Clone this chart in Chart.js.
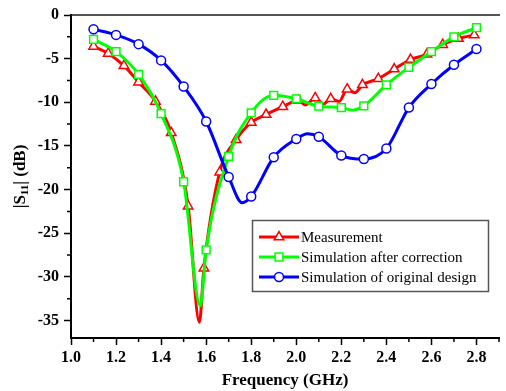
<!DOCTYPE html>
<html>
<head>
<meta charset="utf-8">
<script src="https://cdn.jsdelivr.net/npm/chart.js@4/dist/chart.umd.min.js"></script>
<style>
  html, body { margin: 0; padding: 0; background: #fff; }
</style>
</head>
<body>
<canvas id="s11Chart" width="506" height="391"></canvas>
<script>
// values
const redFreq = [1.10, 1.165, 1.235, 1.30, 1.375, 1.445, 1.52, 1.57, 1.59, 1.66, 1.733, 1.80, 1.866, 1.94, 2.01, 2.04, 2.084, 2.12, 2.153, 2.19, 2.226, 2.26, 2.294, 2.364, 2.435, 2.507, 2.58, 2.65, 2.72, 2.79];
const redS11  = [-3.6, -4.4, -5.8, -7.7, -9.9, -13.5, -21.9, -35.2, -29.0, -18.0, -14.3, -12.3, -11.4, -10.5, -9.8, -10.3, -9.5, -10.2, -9.6, -9.9, -8.5, -8.9, -8.0, -7.3, -6.2, -5.1, -4.5, -3.4, -2.7, -2.3];
const redMark = [1, 1, 1, 1, 1, 1, 1, 0, 1, 1, 1, 1, 1, 1, 1, 0, 1, 0, 1, 0, 1, 0, 1, 1, 1, 1, 1, 1, 1, 1];

const greenFreq = [1.1, 1.2, 1.3, 1.4, 1.5, 1.574, 1.6, 1.7, 1.8, 1.9, 2.0, 2.1, 2.2, 2.25, 2.3, 2.4, 2.5, 2.6, 2.7, 2.8];
const greenS11  = [-2.8, -4.2, -6.8, -11.3, -19.1, -33.3, -26.9, -16.2, -11.2, -9.2, -9.6, -10.45, -10.6, -10.9, -10.4, -8.0, -6.0, -4.2, -2.5, -1.45];
const greenMark = [1, 1, 1, 1, 1, 0, 1, 1, 1, 1, 1, 1, 1, 0, 1, 1, 1, 1, 1, 1];

const blueFreq = [1.1, 1.2, 1.3, 1.4, 1.5, 1.6, 1.7, 1.76, 1.8, 1.9, 2.0, 2.05, 2.1, 2.2, 2.3, 2.4, 2.5, 2.6, 2.7, 2.8];
const blueS11  = [-1.63, -2.28, -3.34, -5.2, -8.2, -12.2, -18.55, -21.5, -20.8, -16.3, -14.2, -13.6, -13.95, -16.1, -16.5, -15.3, -10.6, -7.9, -5.7, -3.9];
const blueMark = [1, 1, 1, 1, 1, 1, 1, 0, 1, 1, 1, 0, 1, 1, 1, 1, 1, 1, 1, 1];

const xTicks = [1.0, 1.2, 1.4, 1.6, 1.8, 2.0, 2.2, 2.4, 2.6, 2.8];
const xMinor = [1.1, 1.3, 1.5, 1.7, 1.9, 2.1, 2.3, 2.5, 2.7, 2.9];
const yTicks = [0, -5, -10, -15, -20, -25, -30, -35];
const yMinor = [-2.5, -7.5, -12.5, -17.5, -22.5, -27.5, -32.5];

const seriesNames = ['Measurement', 'Simulation after correction', 'Simulation of original design'];

const FONT = '"Liberation Serif", "Times New Roman", serif';

function series(label, freq, vals, marks, color, style, r, order) {
  return {
    label,
    data: freq.map((f, i) => ({ x: f, y: vals[i] })),
    borderColor: color,
    backgroundColor: '#fff',
    borderWidth: 3,
    pointStyle: style,
    pointRadius: marks.map(m => m ? r : 0),
    pointBorderColor: color,
    pointBackgroundColor: '#fff',
    pointBorderWidth: 1.5,
    cubicInterpolationMode: 'monotone',
    order
  };
}

const datasets = [
  series(seriesNames[0], redFreq, redS11, redMark, '#ff0000', 'triangle', 5.5, 3),
  series(seriesNames[1], greenFreq, greenS11, greenMark, '#00ff00', 'rect', 5.5, 2),
  series(seriesNames[2], blueFreq, blueS11, blueMark, '#0000ff', 'circle', 4.5, 1)
];

// short outward minor ticks
const minorTicks = {
  id: 'minorTicks',
  afterDraw(chart) {
    const { ctx, scales: { x, y } } = chart;
    ctx.save();
    ctx.strokeStyle = '#000';
    ctx.lineWidth = 1.5;
    ctx.beginPath();
    xMinor.forEach(v => {
      const px = x.getPixelForValue(v);
      if (px > x.right) return;
      ctx.moveTo(px, x.top);
      ctx.lineTo(px, x.top + 4);
    });
    yMinor.forEach(v => {
      const py = y.getPixelForValue(v);
      ctx.moveTo(y.right, py);
      ctx.lineTo(y.right - 4, py);
    });
    ctx.stroke();
    ctx.restore();
  }
};

// y title with a real subscript
const yTitle = {
  id: 'yTitle',
  afterDraw(chart) {
    const { ctx, chartArea } = chart;
    ctx.save();
    ctx.translate(21, (chartArea.top + chartArea.bottom) / 2);
    ctx.rotate(-Math.PI / 2);
    ctx.fillStyle = '#000';
    ctx.textBaseline = 'middle';
    const big = 'bold 17px ' + FONT;
    const small = 'bold 11px ' + FONT;
    const parts = [['|S', big, 0], ['11', small, 4], ['| (dB)', big, 0]];
    let total = 0;
    parts.forEach(p => { ctx.font = p[1]; total += ctx.measureText(p[0]).width; });
    let cx = -total / 2;
    parts.forEach(p => {
      ctx.font = p[1];
      ctx.fillText(p[0], cx, p[2]);
      cx += ctx.measureText(p[0]).width;
    });
    ctx.restore();
  }
};

// boxed legend inside the plot, line + marker per entry
const boxLegend = {
  id: 'boxLegend',
  afterDraw(chart) {
    const { ctx } = chart;
    ctx.save();
    ctx.strokeStyle = '#555';
    ctx.lineWidth = 1.5;
    ctx.strokeRect(252.5, 220.5, 236, 71);
    chart.data.datasets.forEach((ds, i) => {
      const yy = 237 + i * 20;
      ctx.strokeStyle = ds.borderColor;
      ctx.lineWidth = 3;
      ctx.beginPath();
      ctx.moveTo(259, yy);
      ctx.lineTo(299, yy);
      ctx.stroke();
      ctx.fillStyle = '#fff';
      ctx.lineWidth = 1.5;
      Chart.helpers.drawPoint(ctx, {
        pointStyle: ds.pointStyle,
        radius: ds.pointStyle === 'circle' ? 4.5 : 5.5,
        borderWidth: 1.5,
        rotation: 0
      }, 279, yy);
      ctx.fillStyle = '#000';
      ctx.font = '15px ' + FONT;
      ctx.textBaseline = 'middle';
      ctx.fillText(ds.label, 301, yy + 1);
    });
    ctx.restore();
  }
};

new Chart(document.getElementById('s11Chart').getContext('2d'), {
  type: 'line',
  data: { datasets },
  plugins: [minorTicks, yTitle, boxLegend],
  options: {
    responsive: false,
    animation: false,
    events: [],
    layout: { padding: 0 },
    plugins: { legend: { display: false }, tooltip: { enabled: false } },
    scales: {
      x: {
        type: 'linear',
        position: 'bottom',
        min: 1.0,
        max: 2.9,
        afterBuildTicks: s => { s.ticks = xTicks.map(v => ({ value: v })); },
        afterFit: s => { s.height = 53; },
        ticks: {
          color: '#000',
          padding: 3,
          maxRotation: 0,
          font: { family: FONT, size: 16, weight: 'bold' },
          callback: v => v.toFixed(1)
        },
        grid: { drawOnChartArea: false, tickLength: 7, tickColor: '#000', tickWidth: 1.5 },
        border: { color: '#000', width: 2 },
        title: {
          display: true,
          text: 'Frequency (GHz)',
          color: '#000',
          padding: { top: 0, bottom: 0 },
          font: { family: FONT, size: 17, weight: 'bold' }
        }
      },
      xTop: {
        type: 'linear',
        position: 'top',
        min: 1.0,
        max: 2.9,
        afterFit: s => { s.height = 15; },
        ticks: { display: false },
        grid: { display: false },
        border: { color: '#555', width: 2 }
      },
      y: {
        min: -37,
        max: 0,
        afterBuildTicks: s => { s.ticks = yTicks.map(v => ({ value: v })); },
        afterFit: s => { s.width = 71; },
        ticks: {
          color: '#000',
          padding: 5,
          font: { family: FONT, size: 16, weight: 'bold' },
          callback: v => String(v)
        },
        grid: { drawOnChartArea: false, tickLength: 7, tickColor: '#000', tickWidth: 1.5 },
        border: { color: '#000', width: 2 }
      }
    }
  }
});
</script>
</body>
</html>
